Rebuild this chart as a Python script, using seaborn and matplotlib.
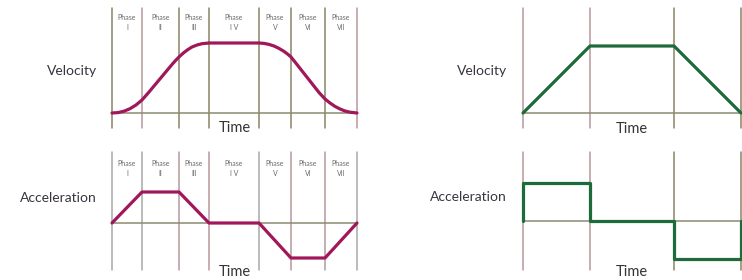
import matplotlib
matplotlib.use("Agg")
import matplotlib.pyplot as plt
import seaborn as sns

sns.set_style("white")
plt.rcParams['font.family'] = ['Lato', 'DejaVu Sans']

# S-curve (seven phase) profile
phase_bounds = [0, 30, 67, 97, 147, 179, 213, 245]
phase_names = ["I", "II", "III", "I V", "V", "VI", "VII"]

vel_time = [0, 6, 12, 18, 24, 30, 36, 60, 64, 68, 72, 76, 80, 85, 90, 97,
            147, 152, 157, 162, 167, 172, 176, 179, 183, 207,
            213, 218, 223, 228, 233, 238, 245]
vel_value = [0, 0.4, 1.8, 4.3, 8, 13, 19.8, 48.5, 53, 57, 60.5, 63.5, 66, 68, 69.3, 70,
             70, 69.6, 68.6, 67, 64.6, 61.6, 58.6, 56, 51, 20.5,
             14, 10, 6.6, 4, 2, 0.8, 0]

acc_time = [0, 30, 67, 97, 147, 179, 213, 245]
acc_value = [0, 31, 31, 0, 0, -35, -35, 0]

# trapezoid profile
trap_bounds = [0, 67, 151, 218]
trap_vel_time = [0, 67, 151, 218]
trap_vel_value = [0, 67, 67, 0]
trap_acc_time = [0, 0, 67, 67, 151, 151, 218, 218]
trap_acc_value = [0, 38, 38, 0, 0, -38, -38, 0]

MAGENTA = "#a0175a"
GREEN = "#1d6b3a"
OLIVE = "#8a8566"
PINK = "#b8979b"
GREY = "#a8a8a8"
BASE = "#8c8a72"
TXT = "#3a3440"

W, H = 742, 280
fig = plt.figure(figsize=(W / 100, H / 100), dpi=100)


def make_ax(left, top, right, bottom):
    return fig.add_axes([left / W, 1 - bottom / H, (right - left) / W, (bottom - top) / H])


def draw_panel(ax, t, v, bounds, ylim, color, vcolors, label, label_y, label_x, time_y):
    ax.set_xlim(bounds[0], bounds[-1])
    ax.set_ylim(*ylim)
    ax.set_axis_off()
    for b, c in zip(bounds, vcolors):
        ax.axvline(b, color=c, lw=1.1, clip_on=False, zorder=1)
    ax.axhline(0, color=BASE, lw=1.1, zorder=1)
    sns.lineplot(x=t, y=v, ax=ax, color=color, linewidth=2.3, sort=False,
                 estimator=None, clip_on=False, zorder=3)
    ax.text(label_x, label_y, label, transform=ax.get_yaxis_transform(),
            ha="right", va="center", fontsize=10, color=TXT)
    ax.text((bounds[0] + bounds[-1]) / 2, time_y, "Time",
            ha="center", va="center", fontsize=10.5, color="#333333")


def phase_labels(ax, y1, y2):
    for i, name in enumerate(phase_names):
        xc = (phase_bounds[i] + phase_bounds[i + 1]) / 2
        ax.text(xc, y1, "Phase", ha="center", va="center", fontsize=5, color="#6a6a6a")
        ax.text(xc, y2, name, ha="center", va="center", fontsize=5, color="#6a6a6a")


ax1 = make_ax(112, 8, 357, 128)
draw_panel(ax1, vel_time, vel_value, phase_bounds, (-15, 105), MAGENTA,
           [OLIVE, PINK, OLIVE, OLIVE, OLIVE, OLIVE, OLIVE, PINK],
           "Velocity", 42, -15 / 245, -15)
phase_labels(ax1, 95, 85)

ax2 = make_ax(112, 152, 357, 270)
draw_panel(ax2, acc_time, acc_value, phase_bounds, (-47, 71), MAGENTA,
           [GREY, GREY, PINK, PINK, GREY, PINK, PINK, GREY],
           "Acceleration", 25, -15 / 245, -49)
phase_labels(ax2, 59, 49)

ax3 = make_ax(523, 8, 741, 128)
draw_panel(ax3, trap_vel_time, trap_vel_value, trap_bounds, (-15, 105), GREEN,
           [PINK, PINK, OLIVE, OLIVE], "Velocity", 42, -16 / 218, -16)

ax4 = make_ax(523, 152, 741, 270)
draw_panel(ax4, trap_acc_time, trap_acc_value, trap_bounds, (-49, 69), GREEN,
           [PINK, PINK, OLIVE, OLIVE], "Acceleration", 24, -16 / 218, -51)

fig.savefig("out.png", dpi=100)
